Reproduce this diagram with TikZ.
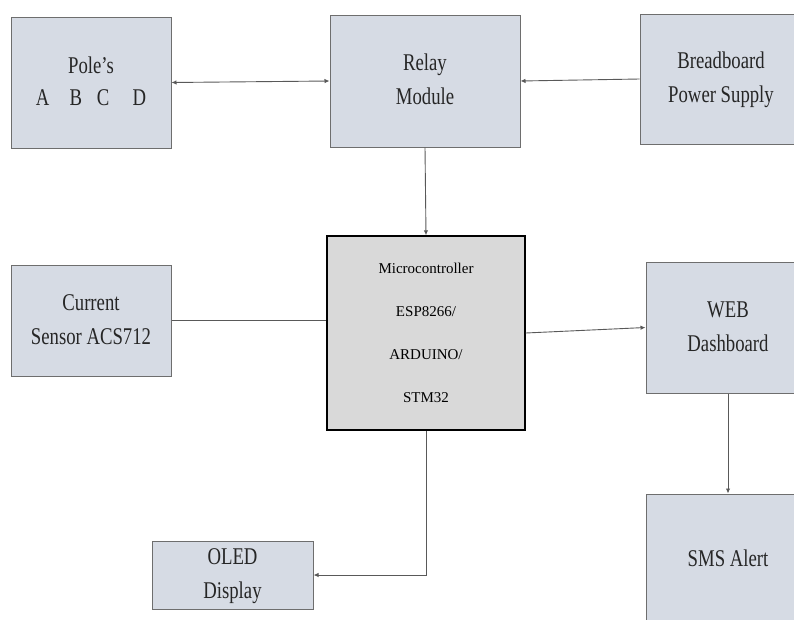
\documentclass[tikz,border=0pt]{standalone}
\usepackage{fontspec}
\setmainfont{Liberation Serif}
\usetikzlibrary{arrows.meta}
\definecolor{boxfill}{HTML}{D6DBE4}
\definecolor{boxline}{HTML}{6E6E6E}
\definecolor{mcufill}{HTML}{D9D9D9}
\definecolor{txt}{HTML}{262626}
\newcommand\cond[1]{\scalebox{0.78}[1]{\begin{tabular}{@{}c@{}}#1\end{tabular}}}
\tikzset{
  blk/.style={draw=boxline, fill=boxfill, line width=1pt, inner sep=0pt, text=txt,
    font=\fontsize{24}{34}\selectfont},
  mcubox/.style={draw=black, fill=mcufill, line width=1.4pt, inner sep=0pt,
    minimum width=198pt, minimum height=194pt, font=\fontsize{15}{43}\selectfont, align=center},
  conn/.style={draw=black!65, line width=0.9pt},
  arr/.style={conn, -{Latex[length=5pt,width=4.5pt]}},
  darr/.style={conn, {Latex[length=5pt,width=4.5pt]}-{Latex[length=5pt,width=4.5pt]}}
}
\begin{document}
\begin{tikzpicture}[x=1pt,y=-1pt]
\useasboundingbox (0,0) rectangle (794,619);
\clip (0,0) rectangle (794,619);
\node[blk, minimum width=160pt, minimum height=131pt] (pole) at (91,82.5)
  {\cond{Pole's\\[-2pt]A\hspace{1.07em}B\hspace{0.8em}C\hspace{1.23em}D}};
\node[blk, minimum width=190pt, minimum height=132pt] (relay) at (425,81)
  {\cond{Relay\\Module}};
\node[blk, minimum width=162pt, minimum height=130pt] (bb) at (721,79)
  {\cond{Breadboard\\Power Supply}};
\node[mcubox] (mcu) at (426,333)
  {Microcontroller\\ESP8266/\\ARDUINO/\\STM32};
\node[blk, minimum width=160pt, minimum height=111pt] (cur) at (91,320.5)
  {\cond{Current\\Sensor ACS712}};
\node[blk, minimum width=164pt, minimum height=131pt] (web) at (728,327.5)
  {\cond{WEB\\Dashboard}};
\node[blk, minimum width=164pt, minimum height=132pt] (sms) at (728,560)
  {\cond{SMS Alert}};
\node[blk, minimum width=161pt, minimum height=68pt] (oled) at (232.5,575)
  {\cond{OLED\\Display}};
\draw[darr] (pole.east) -- (relay.west);
\draw[arr] (bb.west) -- (relay.east);
\draw[arr] (relay.south) -- (mcu.north);
\draw[conn] (cur.east) -- (cur.east -| mcu.west);
\draw[arr] (mcu.east) -- (web.west);
\draw[arr] (web.south) -- (sms.north);
\draw[arr] (mcu.south) |- (oled.east);
\end{tikzpicture}
\end{document}
